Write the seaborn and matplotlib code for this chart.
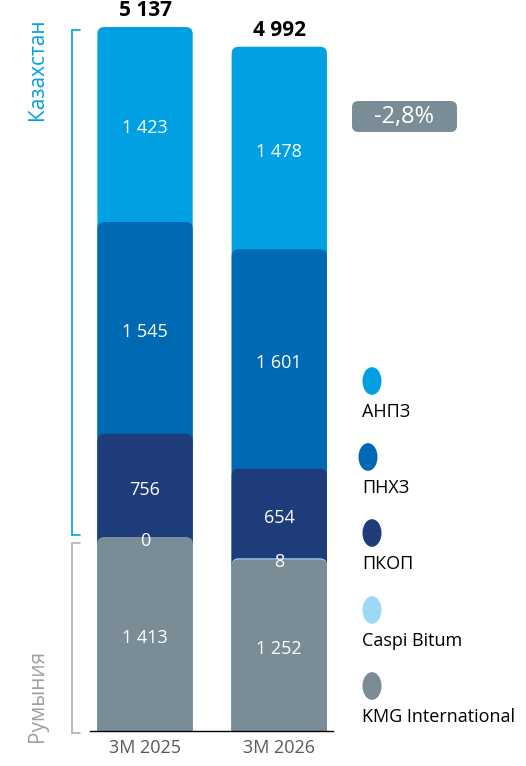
import numpy as np
import pandas as pd
import matplotlib
matplotlib.use("Agg")
import matplotlib.pyplot as plt
import seaborn as sns
from matplotlib.patches import FancyBboxPatch, Circle
from matplotlib.transforms import offset_copy

# Data
periods = ["3M 2025", "3M 2026"]
kmg_international = [1413, 1252]
caspi_bitum = [0, 8]
pkop = [756, 654]
pnhz = [1545, 1601]
anpz = [1423, 1478]
totals = ["5 137", "4 992"]
change_label = "-2,8%"

series_names = ["KMG International", "Caspi Bitum", "ПКОП", "ПНХЗ", "АНПЗ"]
series_values = [kmg_international, caspi_bitum, pkop, pnhz, anpz]
colors = ["#7A8C96", "#9DD8F7", "#1F3C7A", "#0069B4", "#00A0E3"]

sns.set_style("white")
plt.rcParams["font.family"] = ["Open Sans", "DejaVu Sans"]

df = pd.DataFrame({"period": periods})
for name, vals in zip(series_names, series_values):
    df[name] = vals
cum = df[series_names].cumsum(axis=1)

fig = plt.figure(figsize=(5.26, 7.66), dpi=100)
ax = fig.add_axes([90 / 526, 1 - 731 / 766, 243 / 526, 711 / 766])

# draw cumulative bars, tallest first, so each one overlaps the next
for name, color in reversed(list(zip(series_names, colors))):
    sns.barplot(x=df["period"], y=cum[name], color=color, width=0.71,
                saturation=1, ax=ax)

ax.set_xlim(-0.41, 1.40)
ax.set_ylim(0, 5188)

# swap plain bars for rounded ones
fig.canvas.draw()
px_per_x = ax.transData.transform((1, 0))[0] - ax.transData.transform((0, 0))[0]
px_per_y = ax.transData.transform((0, 1))[1] - ax.transData.transform((0, 0))[1]
rx = 7 / px_per_x
aspect = px_per_x / px_per_y
ry = rx * aspect
for p in list(ax.patches):
    x, y = p.get_x(), p.get_y()
    w, h = p.get_width(), p.get_height()
    fc = p.get_facecolor()
    p.remove()
    if h <= 0:
        continue
    ax.add_patch(FancyBboxPatch((x, y - ry), w, h + ry,
                                boxstyle=f"round,pad=0,rounding_size={rx}",
                                mutation_aspect=aspect, facecolor=fc,
                                edgecolor="none", clip_on=True))

# segment labels (nudged a few pixels down like the original)
lbl_tr = offset_copy(ax.transData, fig=fig, x=0, y=-4, units="dots")
for i in range(len(periods)):
    base = 0
    for name, vals in zip(series_names, series_values):
        v = vals[i]
        ypos = base + v / 2 if v > 50 else base + v
        txt = f"{v:,}".replace(",", " ")
        ax.text(i, ypos, txt, ha="center", va="center", color="white",
                fontsize=13, transform=lbl_tr)
        base += v
    ax.text(i, cum.iloc[i, -1] + 45, totals[i], ha="center", va="bottom",
            fontsize=15, fontweight="bold", color="black", clip_on=False)

sns.despine(ax=ax, left=True)
ax.spines["bottom"].set_color("black")
ax.spines["bottom"].set_linewidth(1)
ax.set_yticks([])
ax.set_xlabel("")
ax.set_ylabel("")
ax.tick_params(axis="x", length=0, labelsize=13, labelcolor="#595959", pad=6)

# region brackets
def bracket(y0, y1, color):
    fig.add_artist(plt.Line2D([72 / 526, 72 / 526], [1 - y0 / 766, 1 - y1 / 766],
                              color=color, lw=1.2))
    for yy in (y0, y1):
        fig.add_artist(plt.Line2D([72 / 526, 80 / 526], [1 - yy / 766, 1 - yy / 766],
                                  color=color, lw=1.2))

bracket(30, 535, "#00A0E3")
bracket(543, 733, "#B0B0B0")
fig.text(38 / 526, 1 - 18 / 766, "Казахстан", rotation=90, ha="center", va="top",
         color="#00A0E3", fontsize=15)
fig.text(38 / 526, 1 - 742 / 766, "Румыния", rotation=90, ha="center", va="bottom",
         color="#A0A0A0", fontsize=15)

# change badge
fig.add_artist(FancyBboxPatch((352 / 526, 1 - 132 / 766), 105 / 526, 31 / 766,
                              boxstyle="round,pad=0,rounding_size=0.012",
                              mutation_aspect=526 / 766,
                              transform=fig.transFigure, facecolor="#7A8C96",
                              edgecolor="none"))
fig.text(404 / 526, 1 - 117 / 766, change_label, ha="center", va="center",
         color="white", fontsize=17)

# legend
legend_y = [381, 457, 533, 610, 686]
legend_x = [372, 368, 372, 372, 372]
for name, color, yy, xx in zip(reversed(series_names), reversed(colors), legend_y, legend_x):
    fig.add_artist(Circle((xx / 526, 1 - yy / 766), 9.5 / 526, transform=fig.transFigure,
                          facecolor=color, edgecolor="none"))
    fig.text(362 / 526, 1 - (yy + 31) / 766, name, ha="left", va="center",
             fontsize=13, color="black")

fig.savefig("out.png", dpi=100)
